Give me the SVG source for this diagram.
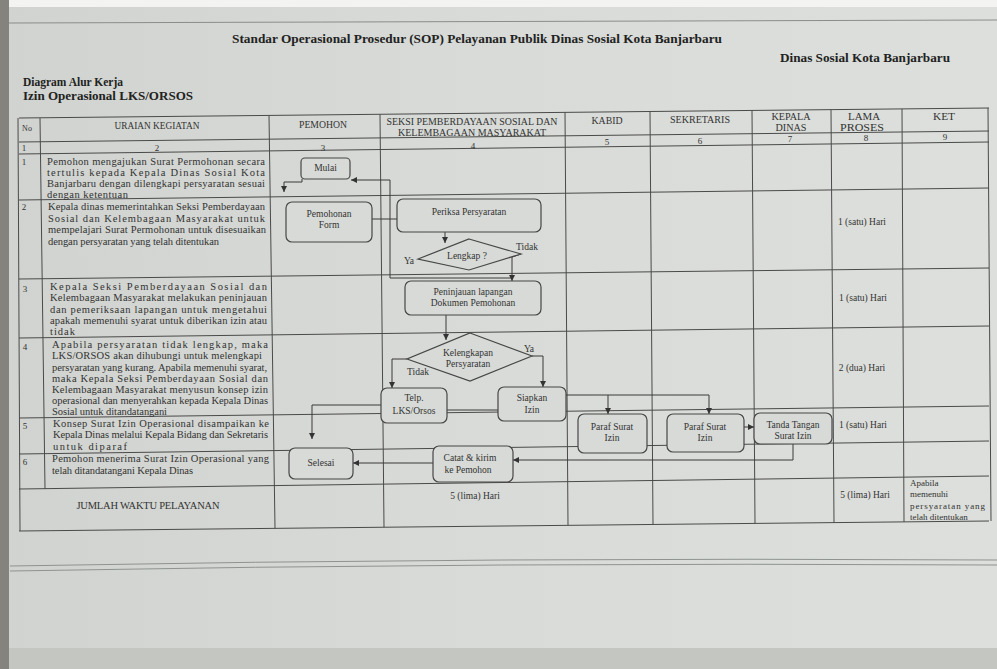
<svg xmlns="http://www.w3.org/2000/svg" width="997" height="669" viewBox="0 0 997 669">
<defs>
<linearGradient id="paper" x1="0" y1="0" x2="1" y2="0">
<stop offset="0" stop-color="#d0d3cf"/>
<stop offset="0.5" stop-color="#d8dbd7"/>
<stop offset="1" stop-color="#dcdfdb"/>
</linearGradient>
<marker id="ah" viewBox="0 0 8 8" refX="8" refY="4" markerWidth="6" markerHeight="6" markerUnits="userSpaceOnUse" orient="auto">
<path d="M0,0 L8,4 L0,8 z" fill="#333"/>
</marker>
<style>
.grid{stroke:#4a4a4a;stroke-width:1;fill:none}
.node{fill:#d7dad6;stroke:#474747;stroke-width:1.2}
.conn{stroke:#3a3a3a;stroke-width:1;fill:none}
.t{font-family:"Liberation Serif","Times New Roman",serif;fill:#333}
.b{font-weight:bold;fill:#222}
.hd{font-size:9.5px;text-anchor:middle}
.num{font-size:9px;text-anchor:middle}
.body{font-size:10.5px}
.nt{font-size:9.5px;text-anchor:middle}
.sm{font-size:9px}
</style>
</defs>
<rect x="0" y="0" width="997" height="669" fill="url(#paper)"/>
<rect x="0" y="0" width="997" height="7" fill="#f3f3f1"/>
<rect x="0" y="0" width="9" height="669" fill="#85837d"/>
<rect x="9" y="648" width="988" height="21" fill="#c4c6c2"/>
<path d="M9 23 L997 20" stroke="#8a8d8a" stroke-width="1" fill="none"/>
<path d="M10 566 Q500 557 997 560" stroke="#8f938f" stroke-width="1" fill="none"/>
<path d="M10 571 Q500 562 997 565" stroke="#8f938f" stroke-width="1" fill="none"/>

<g id="titles">
<text class="t b" x="232" y="43" font-size="13" textLength="490" lengthAdjust="spacingAndGlyphs">Standar Operasional Prosedur (SOP) Pelayanan Publik Dinas Sosial Kota Banjarbaru</text>
<text class="t b" x="780" y="62" font-size="13" textLength="170" lengthAdjust="spacingAndGlyphs">Dinas Sosial Kota Banjarbaru</text>
<text class="t b" x="23" y="86" font-size="12.5" textLength="100" lengthAdjust="spacingAndGlyphs">Diagram Alur Kerja</text>
<text class="t b" x="23" y="100" font-size="12.5" textLength="170" lengthAdjust="spacingAndGlyphs">Izin Operasional LKS/ORSOS</text>
</g>

<g id="table" class="grid">
<path d="M19 118 L989 108"/>
<path d="M19 142 L989 131"/>
<path d="M19 154 L989 142"/>
<path d="M19 200 L989 188"/>
<path d="M19 279 L989 268"/>
<path d="M19 338 L989 326"/>
<path d="M19 418 L989 406"/>
<path d="M19 454 L989 441"/>
<path d="M19 489 L989 476"/>
<path d="M19 531 L989 521"/>
<path d="M18 118 L20 531"/>
<path d="M40 118 L45 489"/>
<path d="M269 115.4 L275 528.4"/>
<path d="M380 114.3 L384 527.2"/>
<path d="M565 112.4 L568 525.3"/>
<path d="M650 111.5 L653 524.5"/>
<path d="M752 110.4 L755 523.4"/>
<path d="M831 109.6 L834 522.6"/>
<path d="M902 108.9 L904 521.9"/>
<path d="M988 108 L991 521"/>
</g>

<g id="header">
<text class="t" x="27" y="131" font-size="8" text-anchor="middle">No</text>
<text class="t hd" x="157" y="129" textLength="85" lengthAdjust="spacingAndGlyphs">URAIAN KEGIATAN</text>
<text class="t hd" x="323" y="127.5" textLength="48" lengthAdjust="spacingAndGlyphs">PEMOHON</text>
<text class="t hd" x="472" y="125" textLength="171" lengthAdjust="spacingAndGlyphs">SEKSI PEMBERDAYAAN SOSIAL DAN</text>
<text class="t hd" x="472" y="136" textLength="148" lengthAdjust="spacingAndGlyphs">KELEMBAGAAN MASYARAKAT</text>
<text class="t hd" x="607" y="123.5" textLength="31" lengthAdjust="spacingAndGlyphs">KABID</text>
<text class="t hd" x="700" y="123" textLength="60" lengthAdjust="spacingAndGlyphs">SEKRETARIS</text>
<text class="t hd" x="791" y="120" textLength="39" lengthAdjust="spacingAndGlyphs">KEPALA</text>
<text class="t hd" x="791" y="131" textLength="31" lengthAdjust="spacingAndGlyphs">DINAS</text>
<text class="t hd" x="864" y="120" textLength="32" lengthAdjust="spacingAndGlyphs">LAMA</text>
<text class="t hd" x="862" y="131" textLength="44" lengthAdjust="spacingAndGlyphs">PROSES</text>
<text class="t hd" x="944" y="120" textLength="22" lengthAdjust="spacingAndGlyphs">KET</text>
<text class="t num" x="24" y="151">1</text>
<text class="t num" x="157" y="151">2</text>
<text class="t num" x="323" y="151">3</text>
<text class="t num" x="473" y="149">4</text>
<text class="t num" x="607" y="145">5</text>
<text class="t num" x="700" y="144">6</text>
<text class="t num" x="790" y="142">7</text>
<text class="t num" x="866" y="141">8</text>
<text class="t num" x="945" y="140">9</text>
</g>

<g id="uraian" class="t body">
<text class="num" x="24" y="165">1</text>
<text x="47" y="165" textLength="218" lengthAdjust="spacing">Pemohon mengajukan Surat Permohonan secara</text>
<text x="47" y="176" textLength="218" lengthAdjust="spacing">tertulis kepada Kepala Dinas Sosial Kota</text>
<text x="47" y="187" textLength="218" lengthAdjust="spacing">Banjarbaru dengan dilengkapi persyaratan sesuai</text>
<text x="47" y="197.5" textLength="81" lengthAdjust="spacing">dengan ketentuan</text>
<text class="num" x="24" y="210">2</text>
<text x="48" y="210" textLength="217" lengthAdjust="spacing">Kepala dinas memerintahkan Seksi Pemberdayaan</text>
<text x="48" y="221.5" textLength="217" lengthAdjust="spacing">Sosial dan Kelembagaan Masyarakat untuk</text>
<text x="48" y="233" textLength="218" lengthAdjust="spacing">mempelajari Surat Permohonan untuk disesuaikan</text>
<text x="48" y="245" textLength="171" lengthAdjust="spacing">dengan persyaratan yang telah ditentukan</text>
<text class="num" x="25" y="292">3</text>
<text x="50" y="290" textLength="217" lengthAdjust="spacing">Kepala Seksi Pemberdayaan Sosial dan</text>
<text x="50" y="301" textLength="217" lengthAdjust="spacing">Kelembagaan Masyarakat melakukan peninjauan</text>
<text x="50" y="312.5" textLength="217" lengthAdjust="spacing">dan pemeriksaan lapangan untuk mengetahui</text>
<text x="50" y="324" textLength="217" lengthAdjust="spacing">apakah memenuhi syarat untuk diberikan izin atau</text>
<text x="50" y="334.5" textLength="25" lengthAdjust="spacing">tidak</text>
<text class="num" x="25" y="350">4</text>
<text x="52" y="348" textLength="216" lengthAdjust="spacing">Apabila persyaratan tidak lengkap, maka</text>
<text x="52" y="359" textLength="210" lengthAdjust="spacing">LKS/ORSOS akan dihubungi untuk melengkapi</text>
<text x="52" y="370.5" textLength="215" lengthAdjust="spacing">persyaratan yang kurang. Apabila memenuhi syarat,</text>
<text x="52" y="381.5" textLength="216" lengthAdjust="spacing">maka Kepala Seksi Pemberdayaan Sosial dan</text>
<text x="52" y="392.5" textLength="216" lengthAdjust="spacing">Kelembagaan Masyarakat menyusun konsep izin</text>
<text x="52" y="403.5" textLength="216" lengthAdjust="spacing">operasional dan menyerahkan kepada Kepala Dinas</text>
<text x="52" y="414.5" textLength="115" lengthAdjust="spacing">Sosial untuk ditandatangani</text>
<text class="num" x="25" y="429">5</text>
<text x="53" y="427" textLength="216" lengthAdjust="spacing">Konsep Surat Izin Operasional disampaikan ke</text>
<text x="53" y="438" textLength="215" lengthAdjust="spacing">Kepala Dinas melalui Kepala Bidang dan Sekretaris</text>
<text x="53" y="449.5" textLength="74" lengthAdjust="spacing">untuk diparaf</text>
<text class="num" x="25" y="465">6</text>
<text x="52" y="462" textLength="217" lengthAdjust="spacing">Pemohon menerima Surat Izin Operasional yang</text>
<text x="52" y="474" textLength="141" lengthAdjust="spacing">telah ditandatangani Kepala Dinas</text>
<text x="148" y="509" font-size="10.5" text-anchor="middle" textLength="143" lengthAdjust="spacing">JUMLAH WAKTU PELAYANAN</text>
</g>

<g id="lama-proses" class="t nt">
<text x="862" y="225">1 (satu) Hari</text>
<text x="863" y="301">1 (satu) Hari</text>
<text x="862" y="371">2 (dua) Hari</text>
<text x="863" y="428">1 (satu) Hari</text>
<text x="865" y="498">5 (lima) Hari</text>
<text x="475" y="499">5 (lima) Hari</text>
</g>

<g id="ket" class="t sm">
<text x="910" y="486">Apabila</text>
<text x="910" y="497">memenuhi</text>
<text x="910" y="509" textLength="75" lengthAdjust="spacing">persyaratan yang</text>
<text x="910" y="520">telah ditentukan</text>
</g>

<g id="connectors" class="conn">
<path d="M302 179 V182 H284 V192" marker-end="url(#ah)"/>
<path d="M512 278 H390 V180 H351" marker-end="url(#ah)"/>
<path d="M372 219 H397"/>
<path d="M445 232 V243" marker-end="url(#ah)"/>
<path d="M521 254 L512 257 V281" marker-end="url(#ah)"/>
<path d="M446 315 V340" marker-end="url(#ah)"/>
<path d="M532 356 H543 V387" marker-end="url(#ah)"/>
<path d="M407 359 H392 V388" marker-end="url(#ah)"/>
<path d="M447 410 H498"/>
<path d="M381 405 H312 V439" marker-end="url(#ah)"/>
<path d="M566 395 H709 V414" marker-end="url(#ah)"/>
<path d="M608 395 V414" marker-end="url(#ah)"/>
<path d="M744 427 H754" marker-end="url(#ah)"/>
<path d="M793 444 V460 H513" marker-end="url(#ah)"/>
<path d="M433 463 H353" marker-end="url(#ah)"/>
</g>

<g id="n-mulai">
<rect class="node" x="301" y="158" width="49" height="21" rx="4"/>
<text class="t nt" x="325.5" y="171">Mulai</text>
</g>
<g id="n-form">
<rect class="node" x="286" y="202" width="86" height="40" rx="6"/>
<text class="t nt" x="329" y="217">Pemohonan</text>
<text class="t nt" x="329" y="228">Form</text>
</g>
<g id="n-periksa">
<rect class="node" x="397" y="199" width="144" height="33" rx="6"/>
<text class="t nt" x="469" y="215">Periksa Persyaratan</text>
</g>
<g id="n-lengkap">
<polygon class="node" points="469,239 521,254 469,270 418,259"/>
<text class="t nt" x="467" y="259">Lengkap ?</text>
<text class="t nt" x="409" y="264">Ya</text>
<text class="t nt" x="527" y="250">Tidak</text>
</g>
<g id="n-peninjauan">
<rect class="node" x="405" y="281" width="136" height="34" rx="6"/>
<text class="t nt" x="473" y="295">Peninjauan lapangan</text>
<text class="t nt" x="473" y="306">Dokumen Pemohonan</text>
</g>
<g id="n-kelengkapan">
<polygon class="node" points="470,333 532,356 470,381 407,359"/>
<text class="t nt" x="468" y="356">Kelengkapan</text>
<text class="t nt" x="468" y="367">Persyaratan</text>
<text class="t nt" x="529" y="352">Ya</text>
<text class="t nt" x="418" y="375">Tidak</text>
</g>
<g id="n-telp">
<rect class="node" x="381" y="388" width="66" height="35" rx="6"/>
<text class="t nt" x="414" y="401">Telp.</text>
<text class="t nt" x="414" y="414">LKS/Orsos</text>
</g>
<g id="n-siapkan">
<rect class="node" x="498" y="387" width="68" height="34" rx="6"/>
<text class="t nt" x="532" y="401">Siapkan</text>
<text class="t nt" x="532" y="413">Izin</text>
</g>
<g id="n-paraf-kabid">
<rect class="node" x="578" y="414" width="69" height="39" rx="6"/>
<text class="t nt" x="612" y="430">Paraf Surat</text>
<text class="t nt" x="612" y="441">Izin</text>
</g>
<g id="n-paraf-sekretaris">
<rect class="node" x="667" y="414" width="77" height="38" rx="6"/>
<text class="t nt" x="705" y="430">Paraf Surat</text>
<text class="t nt" x="705" y="441">Izin</text>
</g>
<g id="n-tanda-tangan">
<rect class="node" x="754" y="413" width="78" height="31" rx="6"/>
<text class="t nt" x="793" y="428">Tanda Tangan</text>
<text class="t nt" x="793" y="439">Surat Izin</text>
</g>
<g id="n-catat">
<rect class="node" x="433" y="446" width="80" height="36" rx="6"/>
<text class="t nt" x="470" y="461">Catat &amp; kirim</text>
<text class="t nt" x="468" y="473">ke Pemohon</text>
</g>
<g id="n-selesai">
<rect class="node" x="289" y="448" width="64" height="31" rx="6"/>
<text class="t nt" x="321" y="466">Selesai</text>
</g>
</svg>
